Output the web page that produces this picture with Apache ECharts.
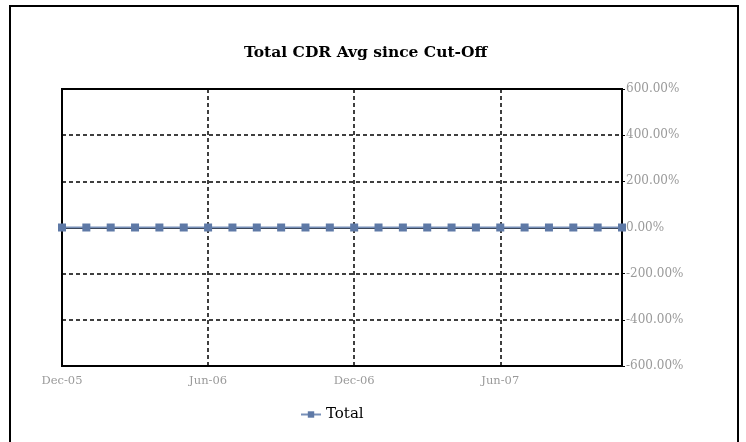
<!DOCTYPE html>
<html>
<head>
<meta charset="utf-8">
<script src="https://cdn.jsdelivr.net/npm/echarts@6/dist/echarts.min.js"></script>
<style>
  html, body { margin: 0; padding: 0; background: #fff; }
  #chart { width: 746px; height: 442px; }
</style>
</head>
<body>
<div id="chart"></div>
<script>
// Monthly periods, Dec-05 through Nov-07
const months = [
  'Dec-05','Jan-06','Feb-06','Mar-06','Apr-06','May-06','Jun-06','Jul-06','Aug-06','Sep-06','Oct-06','Nov-06',
  'Dec-06','Jan-07','Feb-07','Mar-07','Apr-07','May-07','Jun-07','Jul-07','Aug-07','Sep-07','Oct-07','Nov-07'
];
// Total CDR average since cut-off (fraction, 1 = 100%)
const totalCdr = [
  0, 0, 0, 0, 0, 0, 0, 0, 0, 0, 0, 0,
  0, 0, 0, 0, 0, 0, 0, 0, 0, 0, 0, 0
];
const seriesName = 'Total';
const chartTitle = 'Total CDR Avg since Cut-Off';

const serif = '"DejaVu Serif", "Liberation Serif", serif';
const chart = echarts.init(document.getElementById('chart'), null, { renderer: 'canvas' });

chart.setOption({
  animation: false,
  backgroundColor: '#fff',
  graphic: [{
    type: 'rect',
    shape: { x: 10, y: 6, width: 728, height: 460 },
    style: { fill: 'none', stroke: '#000', lineWidth: 2 },
    silent: true,
    z: -1
  }],
  title: {
    text: chartTitle,
    left: 239,
    top: 40,
    textStyle: { fontFamily: serif, fontWeight: 'bold', fontSize: 15.5, color: '#000' }
  },
  legend: {
    data: [seriesName],
    left: 295,
    top: 402,
    itemWidth: 20,
    itemHeight: 8,
    itemGap: 4,
    textStyle: { fontFamily: serif, fontSize: 15, color: '#000' }
  },
  grid: {
    left: 62, right: 124, top: 89, bottom: 76,
    show: true,
    borderColor: '#000',
    borderWidth: 2,
    backgroundColor: '#fff',
    containLabel: false
  },
  xAxis: {
    type: 'category',
    data: months,
    boundaryGap: false,
    axisLine: { show: true, lineStyle: { color: '#000', width: 2 } },
    axisTick: { show: true, interval: 5, length: 3, inside: false, lineStyle: { color: '#000' } },
    axisLabel: { interval: 5, fontFamily: serif, fontSize: 11.5, color: '#9a9a9a', margin: 9 },
    splitLine: { show: true, interval: 5, lineStyle: { color: '#000', width: 1.5, type: [4, 3] } }
  },
  yAxis: {
    type: 'value',
    position: 'right',
    min: -6,
    max: 6,
    interval: 2,
    axisLine: { show: true, lineStyle: { color: '#000', width: 2 } },
    axisTick: { show: true, length: 3, lineStyle: { color: '#000' } },
    axisLabel: {
      fontFamily: serif, fontSize: 12, color: '#9a9a9a', margin: 4,
      formatter: v => (v * 100).toFixed(2) + '%'
    },
    splitLine: { show: true, lineStyle: { color: '#000', width: 1.5, type: [4, 3] } }
  },
  series: [{
    name: seriesName,
    type: 'line',
    data: totalCdr,
    symbol: 'rect',
    symbolSize: 8,
    clip: false,
    lineStyle: { color: '#7890B8', width: 2 },
    itemStyle: { color: '#5E79A6' },
    z: 5
  }]
});
</script>
</body>
</html>
